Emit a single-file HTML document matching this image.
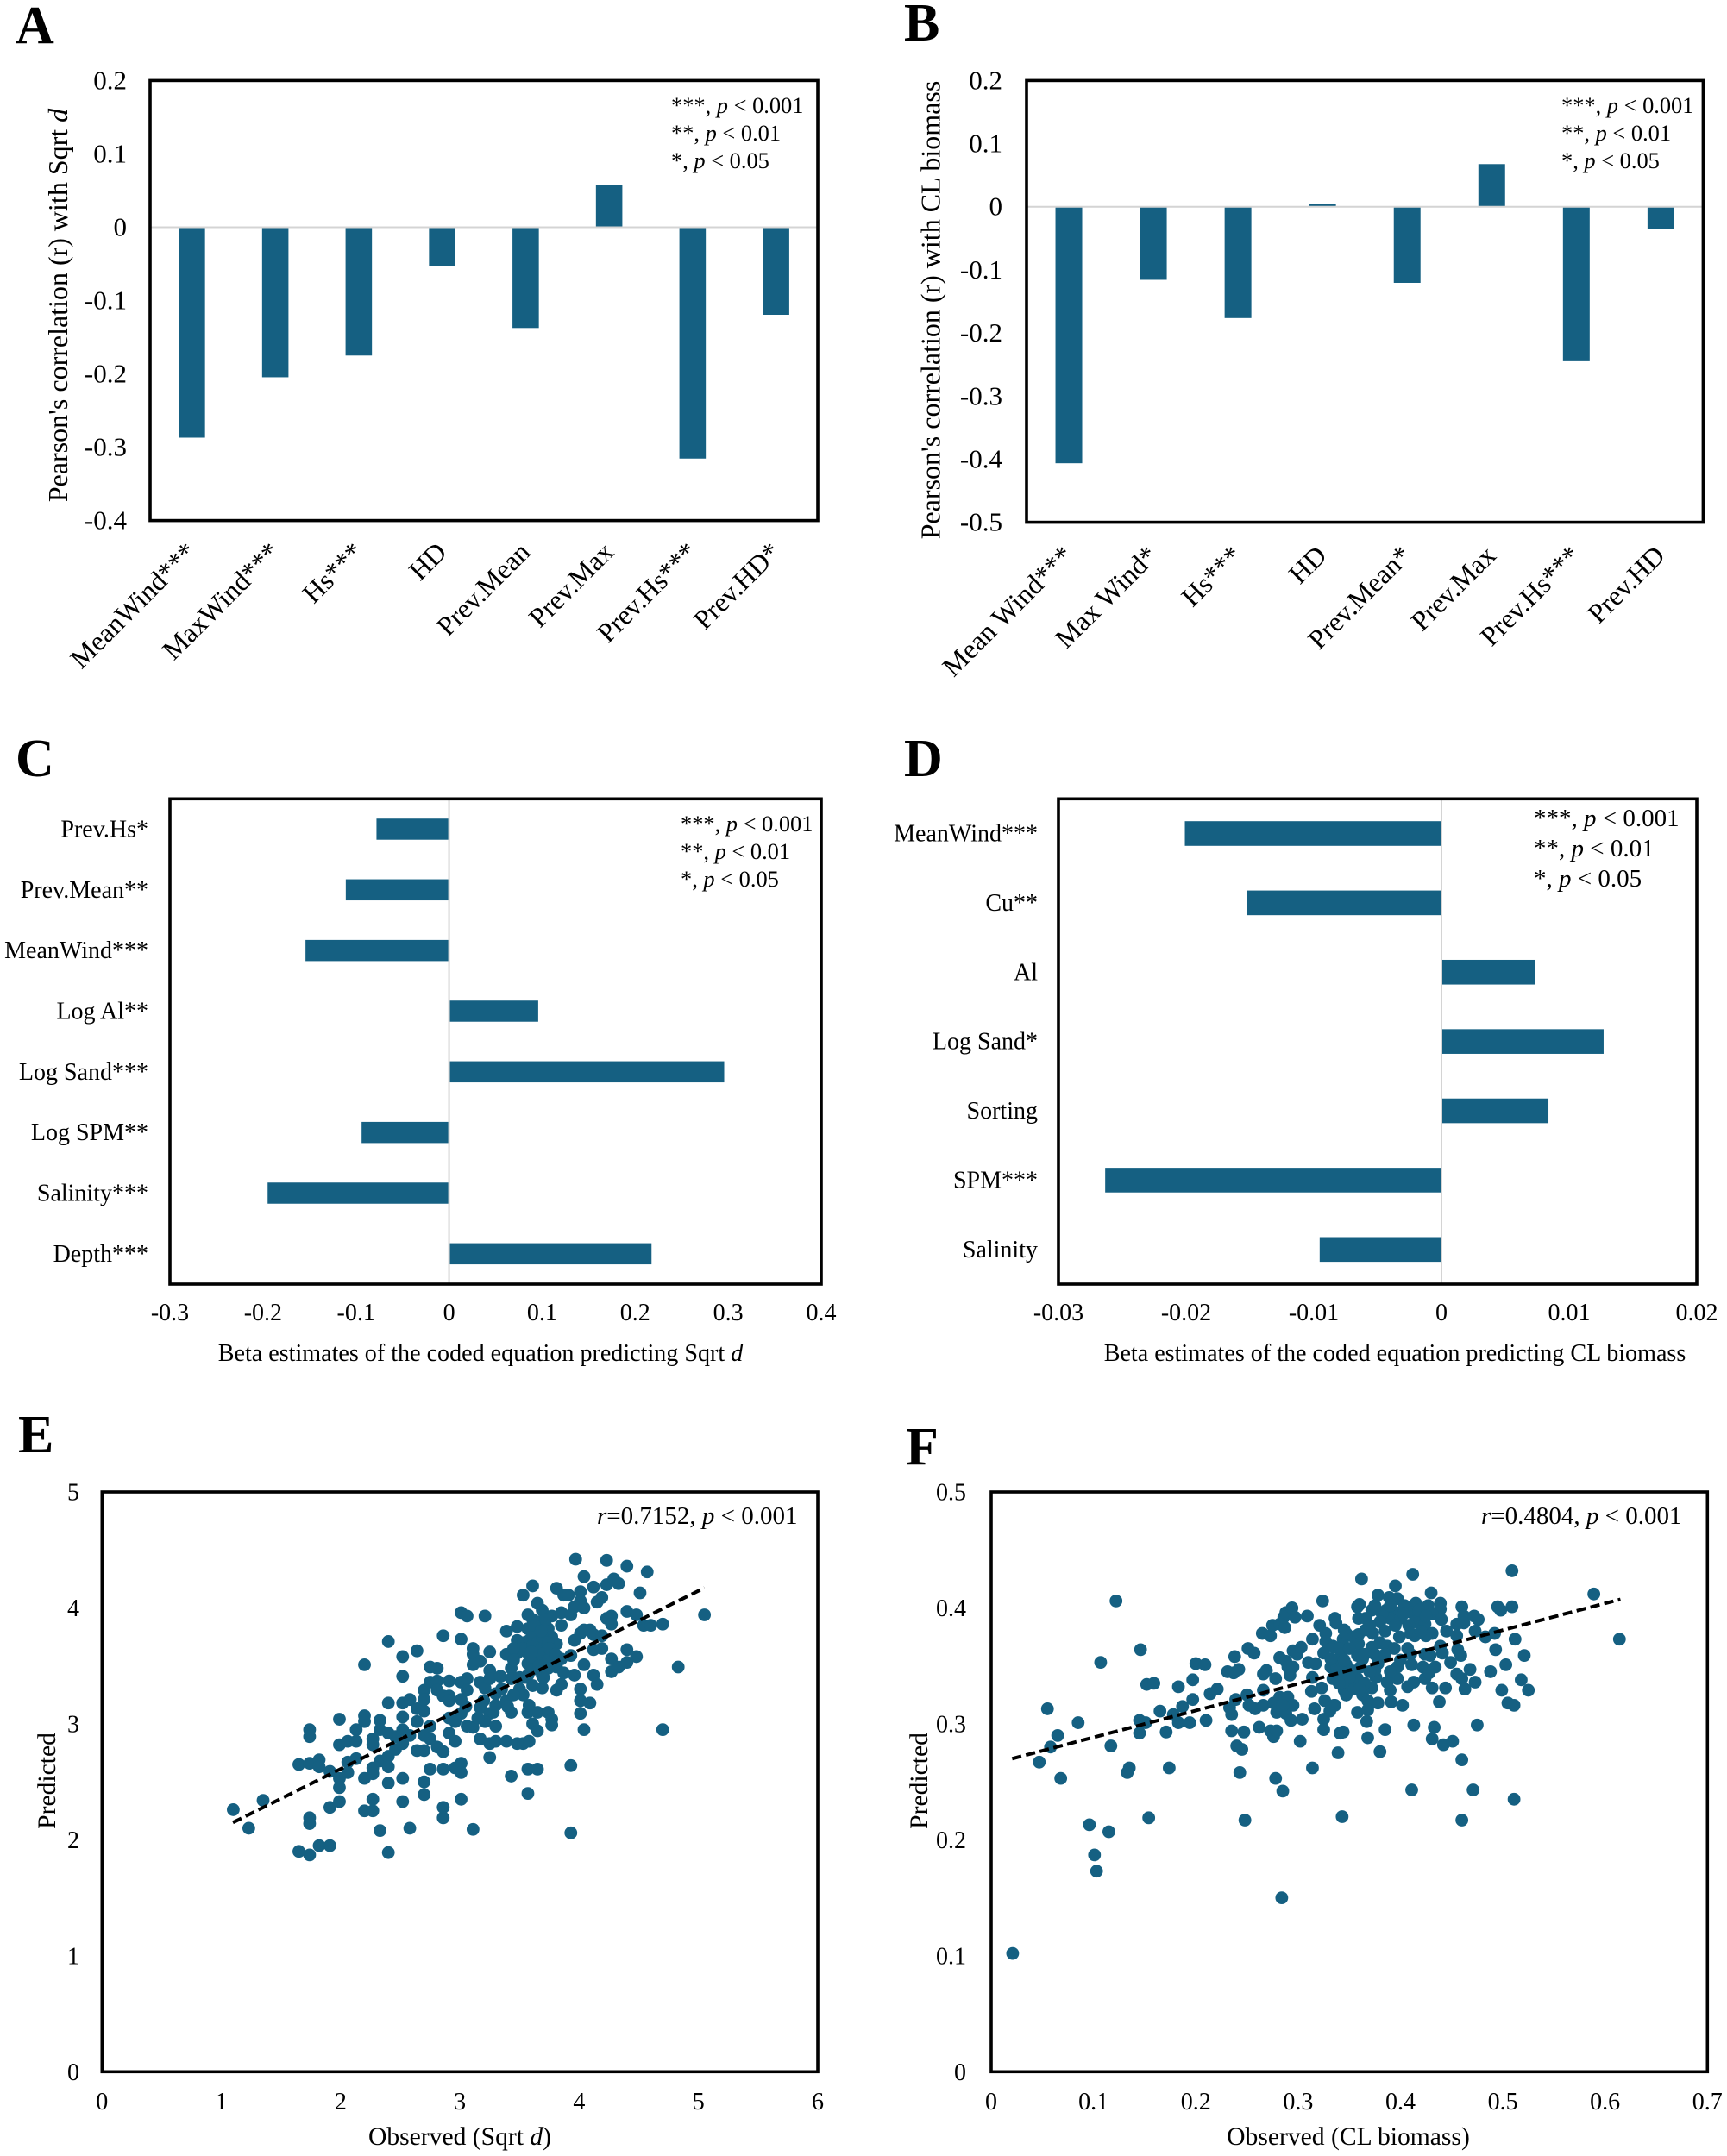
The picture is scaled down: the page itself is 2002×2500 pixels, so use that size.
<!DOCTYPE html>
<html lang="en">
<head>
<meta charset="utf-8">
<title>Correlation, regression and predicted vs observed panels</title>
<style>
html,body{margin:0;padding:0;background:#fff;}
svg{display:block;}
text{font-family:"Liberation Serif","Times New Roman",serif;fill:#000;}
.panel-letter{font-size:62px;font-weight:bold;}
.tk-ab{font-size:31px;}
.tk-rot{font-size:32px;}
.tk{font-size:28px;}
.ttl{font-size:28.1px;}
.ttl-sc{font-size:29.6px;}
.ttl-ab{font-size:32px;}
.leg{font-size:26.4px;}
.leg-d{font-size:29px;}
.ann{font-size:29px;}
.it{font-style:italic;}
</style>
</head>
<body>
<svg id="figure" xmlns="http://www.w3.org/2000/svg" width="2002" height="2500" viewBox="0 0 2002 2500">
<rect x="0" y="0" width="2002" height="2500" fill="#ffffff"/>

<g id="panel-a">
  <text class="panel-letter" x="18" y="50">A</text>
  <text class="ttl-ab" text-anchor="middle" transform="translate(78,354) rotate(-90)">Pearson's correlation (r) with Sqrt <tspan class="it">d</tspan></text>
  <g>
    <text class="leg" x="778" y="131">***, <tspan class="it">p</tspan> &lt; 0.001</text>
    <text class="leg" x="778" y="163">**, <tspan class="it">p</tspan> &lt; 0.01</text>
    <text class="leg" x="778" y="195">*, <tspan class="it">p</tspan> &lt; 0.05</text>
  </g>
</g>

<g id="panel-b">
  <text class="panel-letter" x="1048" y="47">B</text>
  <text class="ttl-ab" text-anchor="middle" transform="translate(1089.5,359.5) rotate(-90)">Pearson's correlation (r) with CL biomass</text>
  <g>
    <text class="leg" x="1810" y="131">***, <tspan class="it">p</tspan> &lt; 0.001</text>
    <text class="leg" x="1810" y="163">**, <tspan class="it">p</tspan> &lt; 0.01</text>
    <text class="leg" x="1810" y="195">*, <tspan class="it">p</tspan> &lt; 0.05</text>
  </g>
</g>

<g id="panel-c">
  <text class="panel-letter" x="18" y="900">C</text>
  <text class="ttl" text-anchor="middle" x="557" y="1578">Beta estimates of the coded equation predicting Sqrt <tspan class="it">d</tspan></text>
  <g>
    <text class="leg" x="789" y="964">***, <tspan class="it">p</tspan> &lt; 0.001</text>
    <text class="leg" x="789" y="996">**, <tspan class="it">p</tspan> &lt; 0.01</text>
    <text class="leg" x="789" y="1028">*, <tspan class="it">p</tspan> &lt; 0.05</text>
  </g>
</g>

<g id="panel-d">
  <text class="panel-letter" x="1048" y="900">D</text>
  <text class="ttl" text-anchor="middle" x="1617" y="1578">Beta estimates of the coded equation predicting CL biomass</text>
  <g>
    <text class="leg-d" x="1778" y="958">***, <tspan class="it">p</tspan> &lt; 0.001</text>
    <text class="leg-d" x="1778" y="993">**, <tspan class="it">p</tspan> &lt; 0.01</text>
    <text class="leg-d" x="1778" y="1028">*, <tspan class="it">p</tspan> &lt; 0.05</text>
  </g>
</g>

<g id="panel-e">
  <text class="panel-letter" x="21" y="1684">E</text>
  <text class="ttl-sc" text-anchor="middle" x="533" y="2487">Observed (Sqrt <tspan class="it">d</tspan>)</text>
  <text class="ttl-sc" text-anchor="middle" transform="translate(64,2065) rotate(-90)">Predicted</text>
  <text class="ann" x="692" y="1767"><tspan class="it">r</tspan>=0.7152, <tspan class="it">p</tspan> &lt; 0.001</text>
</g>

<g id="panel-f">
  <text class="panel-letter" x="1050" y="1698">F</text>
  <text class="ttl-sc" text-anchor="middle" x="1563" y="2487">Observed (CL biomass)</text>
  <text class="ttl-sc" text-anchor="middle" transform="translate(1075,2065) rotate(-90)">Predicted</text>
  <text class="ann" x="1717" y="1767"><tspan class="it">r</tspan>=0.4804, <tspan class="it">p</tspan> &lt; 0.001</text>
</g>
</svg>

<script>
// ---------- Panel A ----------
const aCategories = ['MeanWind***','MaxWind***','Hs***','HD','Prev.Mean','Prev.Max','Prev.Hs***','Prev.HD*'];
const aValues = [-0.287,-0.2046,-0.175,-0.0534,-0.1374,0.057,-0.3155,-0.1194];
const aTickLabels = ['0.2','0.1','0','-0.1','-0.2','-0.3','-0.4'];

// ---------- Panel B ----------
const bCategories = ['Mean Wind***','Max Wind*','Hs***','HD','Prev.Mean*','Prev.Max','Prev.Hs***','Prev.HD'];
const bValues = [-0.4065,-0.1158,-0.1764,0.004,-0.1206,0.0676,-0.2448,-0.0349];
const bTickLabels = ['0.2','0.1','0','-0.1','-0.2','-0.3','-0.4','-0.5'];

// ---------- Panel C ----------
const cCategories = ['Prev.Hs*','Prev.Mean**','MeanWind***','Log Al**','Log Sand***','Log SPM**','Salinity***','Depth***'];
const cValues = [-0.078,-0.111,-0.1543,0.0958,0.2957,-0.094,-0.195,0.2176];
const cTickLabels = ['-0.3','-0.2','-0.1','0','0.1','0.2','0.3','0.4'];

// ---------- Panel D ----------
const dCategories = ['MeanWind***','Cu**','Al','Log Sand*','Sorting','SPM***','Salinity'];
const dValues = [-0.0201,-0.01524,0.0073,0.0127,0.00838,-0.02634,-0.00954];
const dTickLabels = ['-0.03','-0.02','-0.01','0','0.01','0.02'];

// ---------- Panel E ----------
const eXTickLabels = ['0','1','2','3','4','5','6'];
const eYTickLabels = ['0','1','2','3','4','5'];
const eTrendX = [1.097,5.05];
const eTrendY = [2.149,4.173];
const eObserved = [
1.10,1.23,1.35,1.65,1.65,
1.74,1.74,1.74,1.74,1.74,1.74,1.82,1.82,1.82,
1.91,1.91,1.91,1.99,1.99,1.99,1.99,1.99,
2.06,2.06,2.06,2.13,2.13,2.13,
2.20,2.20,2.20,2.20,2.20,2.27,2.27,2.27,2.27,2.27,2.27,
2.33,2.33,2.33,2.33,2.40,2.40,2.40,2.40,2.40,2.40,2.40,
2.46,2.46,2.52,2.52,2.52,2.52,2.52,2.52,2.52,2.52,
2.58,2.58,2.58,2.64,2.64,2.64,2.64,
2.70,2.70,2.70,2.70,2.70,2.70,2.70,2.75,2.75,2.75,2.75,2.75,
2.81,2.81,2.81,2.81,2.86,2.86,2.86,2.86,2.86,2.86,
2.91,2.91,2.91,2.91,2.91,2.96,2.96,2.96,
3.01,3.01,3.01,3.01,3.01,3.01,3.01,3.01,
3.06,3.06,3.06,3.06,3.11,3.11,3.11,3.11,3.11,
3.17,3.17,3.17,3.17,3.21,3.21,3.21,
3.25,3.25,3.25,3.25,3.25,3.25,3.30,3.30,3.30,3.30,3.34,
3.39,3.39,3.39,3.39,3.43,3.43,3.43,3.43,3.48,3.48,3.48,3.48,
3.53,3.53,3.53,3.57,3.57,3.57,3.57,3.57,3.57,3.57,3.57,
3.58,3.58,3.58,3.61,3.61,3.61,
3.65,3.65,3.65,3.65,3.65,3.65,3.69,3.69,3.69,3.69,3.69,
3.74,3.74,3.74,3.77,3.77,3.77,3.77,3.77,
3.81,3.81,3.81,3.81,3.85,3.85,3.85,3.85,3.87,3.87,3.91,
3.93,3.93,3.93,3.93,3.96,3.96,3.96,3.97,
4.01,4.01,4.01,4.01,4.01,4.01,4.04,4.04,4.04,4.04,4.04,4.09,4.09,
4.12,4.12,4.12,4.12,4.15,4.15,4.19,4.19,4.19,
4.23,4.23,4.23,4.27,4.27,4.27,4.27,4.29,4.33,4.33,
4.40,4.40,4.40,4.40,4.48,4.48,4.51,4.54,4.57,4.60,4.70,4.70,4.83,5.05,
3.53,3.53,3.61,3.61,3.61,3.61,3.61,3.65,3.65,3.65,3.69,3.69,3.69,3.74,3.74,3.74,3.45,3.45,3.50,3.50,
3.62,3.68,3.72,3.60,3.75,3.80,3.66,3.20,3.28,3.35,3.40,3.15,3.45,3.05,3.55,3.70
];
const ePredicted = [
2.26,2.10,2.34,2.65,1.90,
2.66,2.95,2.89,1.87,2.19,2.14,2.69,2.63,1.95,
2.59,1.95,2.28,2.33,3.04,2.82,2.53,2.45,
2.85,2.67,2.58,2.85,2.95,2.70,
2.53,2.25,3.51,3.07,3.02,2.25,2.35,2.62,2.57,2.87,2.82,
3.03,2.95,2.68,2.08,3.71,3.18,2.92,2.72,2.63,2.49,1.89,
2.89,2.78,3.58,3.41,3.18,3.06,2.95,2.83,2.53,2.33,
3.21,2.90,2.10,3.63,3.13,3.02,2.77,
3.29,3.21,3.11,2.90,2.77,2.50,2.39,3.49,3.36,2.98,2.87,2.61,
3.48,3.37,3.29,2.80,3.76,3.24,2.76,2.61,2.28,2.19,
3.37,3.24,3.20,3.05,2.92,3.02,2.85,2.62,
3.96,3.73,3.36,3.21,3.09,2.66,2.58,2.35,
3.93,3.39,3.29,2.98,3.65,3.60,3.51,2.09,2.97,
3.36,3.54,3.14,2.87,3.93,3.31,3.02,
3.62,3.46,3.39,3.09,2.83,2.71,3.26,3.16,2.98,2.85,3.41,
3.80,3.60,3.20,2.85,3.48,3.39,3.10,2.55,3.84,3.72,3.61,2.83,
4.11,3.25,2.83,3.94,3.82,3.61,3.52,3.42,3.10,2.61,2.40,
3.72,3.16,2.85,4.19,3.33,3.00,
4.04,3.76,3.56,3.10,2.94,2.61,3.98,3.42,3.31,3.86,3.66,
3.82,3.61,3.10,3.93,3.75,3.69,3.04,2.99,
4.17,3.69,3.49,3.29,3.96,3.85,3.56,3.34,4.11,3.44,4.11,
2.64,2.06,3.59,3.94,4.01,3.72,3.42,4.42,
4.14,4.06,3.78,3.30,3.20,3.09,4.27,4.00,3.51,2.95,3.81,3.81,3.18,
4.18,3.77,3.64,3.42,4.05,3.34,3.76,3.65,4.09,
4.41,4.20,3.91,3.93,3.86,3.56,3.45,4.25,4.21,3.49,
4.36,3.97,3.64,3.53,3.94,3.58,4.13,3.85,4.31,3.85,3.86,2.95,3.49,3.94,
3.70,3.65,3.90,3.78,3.68,3.55,3.47,3.88,3.70,3.63,3.75,3.60,3.52,3.70,3.55,3.48,3.65,3.55,3.30,3.40,
3.85,3.80,3.90,3.62,3.65,3.60,3.50,3.20,3.10,3.30,3.15,3.05,3.25,3.15,3.40,3.40
];

// ---------- Panel F ----------
const fXTickLabels = ['0','0.1','0.2','0.3','0.4','0.5','0.6','0.7'];
const fYTickLabels = ['0','0.1','0.2','0.3','0.4','0.5'];
const fTrendX = [0.0205,0.615];
const fTrendY = [0.270,0.4074];
const fObserved = [
.021,.122,.146,.107,.055,.085,.065,.058,.047,.068,.117,.135,.133,.174,.096,.115,.154,.101,.103,.248,
.284,.243,.278,.285,.314,.302,.145,.151,.145,.171,.165,.178,.183,.187,.194,.197,.210,.183,.197,.152,
.159,.200,.209,.214,.221,.231,.237,.242,.238,.251,.257,.239,.250,.233,.235,.235,.247,.240,.245,.252,
.258,.266,.266,.262,.273,.276,.279,.266,.269,.278,.265,.273,.275,.282,.287,.286,.288,.294,.297,.309,
.324,.321,.327,.314,.336,.337,.345,.344,.282,.288,.290,.295,.292,.295,.299,.303,.310,.317,.325,.327,
.334,.314,.313,.323,.316,.326,.331,.336,.325,.325,.276,.282,.290,.295,.279,.288,.293,.304,.285,.338,
.332,.344,.345,.347,
.362,.412,.395,.430,.509,.589,.614,.378,.389,.397,.439,.439,.460,.495,.498,.509,.358,.360,.372,.359,
.366,.415,.427,.431,.386,.396,.404,.411,.420,.462,.472,.476,.390,.400,.414,.424,.462,.455,.347,.354,
.359,.366,.373,.431,.445,.455,.473,.483,.492,.512,.414,.425,.399,.359,.372,.380,.387,.394,.335,.342,
.407,.439,.441,.424,.429,.456,.459,.493,.521,.449,.503,.488,.468,.455,.460,.473,.518,.525,.499,.505,
.511,.463,.444,.431,.438,.402,.391,.378,.372,.376,.387,.397,.390,.407,.413,.424,.434,.422,.428,.397,
.411,.375,.358,.363,.347,.358,.361,.347,.347,.363,.368,.358,.368,.367,.335,.385,.368,.341,.344,.339,
.380,.413,.433,.431,.442,.451,.475,.460,.411,.471,.511,.343,.460,.352,.344,.338,.332,.334,
.375,.382,.390,.395,.403,.408,.418,.425,.380,.370,.385,.410,.420,.440,
.365,.375,.385,.400,.410,.340,.345,.350,.355,.365,.370,.340,.350,.360,.378,.390
];
const fPredicted = [
.102,.406,.364,.353,.313,.301,.290,.280,.267,.253,.281,.262,.258,.262,.213,.207,.219,.187,.173,.217,
.150,.258,.253,.242,.262,.285,.303,.301,.292,.293,.311,.308,.301,.315,.301,.321,.303,.332,.338,.334,
.335,.352,.351,.326,.330,.345,.344,.347,.358,.365,.361,.321,.325,.314,.308,.294,.293,.281,.278,.316,
.313,.329,.316,.297,.294,.289,.294,.343,.346,.339,.378,.376,.385,.386,.383,.392,.396,.400,.392,.393,
.406,.385,.378,.373,.391,.387,.381,.373,.357,.354,.349,.349,.342,.363,.360,.366,.353,.352,.361,.371,
.367,.340,.328,.331,.313,.320,.311,.316,.304,.295,.318,.323,.323,.316,.310,.309,.303,.304,.316,.354,
.349,.341,.329,.325,
.425,.429,.419,.413,.432,.412,.373,.411,.409,.408,.404,.399,.401,.401,.398,.401,.401,.403,.398,.391,
.391,.404,.402,.395,.398,.396,.402,.396,.393,.393,.393,.390,.391,.391,.388,.386,.387,.386,.378,.375,
.377,.381,.378,.378,.380,.376,.380,.375,.378,.373,.376,.376,.375,.369,.366,.370,.367,.365,.366,.359,
.365,.367,.361,.360,.359,.364,.359,.364,.359,.353,.351,.345,.347,.343,.339,.336,.338,.329,.329,.318,
.316,.330,.331,.331,.319,.316,.319,.318,.331,.340,.336,.339,.329,.332,.336,.339,.349,.349,.344,.349,
.351,.346,.359,.356,.351,.339,.349,.336,.325,.325,.320,.310,.312,.302,.316,.295,.288,.292,.293,.275,
.276,.299,.297,.287,.282,.285,.299,.269,.243,.243,.235,.220,.217,.346,.344,.349,.356,.339,
.402,.395,.402,.385,.395,.385,.398,.393,.388,.385,.380,.378,.380,.390,
.360,.360,.360,.355,.360,.365,.355,.340,.330,.335,.345,.335,.365,.330,.352,.345
];

// ---------- Shared helpers ----------
const SVGNS = 'http://www.w3.org/2000/svg';
const BAR_COLOR = '#156082';
const ZERO_COLOR = '#d4d4d4';

function linear(d0, d1, r0, r1) {
  return function (v) { return r0 + (v - d0) / (d1 - d0) * (r1 - r0); };
}
function make(parent, tag, attrs, content) {
  const el = document.createElementNS(SVGNS, tag);
  for (const k in attrs) el.setAttribute(k, attrs[k]);
  if (content !== undefined) el.textContent = content;
  parent.appendChild(el);
  return el;
}
function drawFrame(group, box) {
  const frame = make(group, 'rect', {x: box.left, y: box.top, width: box.right - box.left, height: box.bottom - box.top, fill: 'none', stroke: '#000', 'stroke-width': 3.6});
  
  
}

function verticalBars(panelId, box, categories, values, tickLabels, labelOffsetX, labelY, tickRight) {
  const g = document.getElementById(panelId);
  const max = parseFloat(tickLabels[0]);
  const min = parseFloat(tickLabels[tickLabels.length - 1]);
  const y = linear(max, min, box.top, box.bottom);
  const band = (box.right - box.left) / categories.length;
  const barW = band * 0.316;
  categories.forEach(function (cat, i) {
    const cx = box.left + band * (i + 0.5);
    const v = values[i];
    const bar = make(g, 'rect', {x: cx - barW / 2, y: Math.min(y(0), y(v)), width: barW, height: Math.abs(y(v) - y(0)), fill: BAR_COLOR});
    
    
    const lx = cx + labelOffsetX;
    const label = make(g, 'text', {class: 'tk-rot', 'text-anchor': 'end', transform: 'translate(' + lx + ',' + labelY + ') rotate(-45)'}, cat);
    
    
  });
  const zero = make(g, 'line', {x1: box.left, x2: box.right, y1: y(0), y2: y(0), stroke: ZERO_COLOR, 'stroke-width': 2});
  
  
  tickLabels.forEach(function (t) {
    const tick = make(g, 'text', {class: 'tk-ab', 'text-anchor': 'end', x: tickRight, y: y(parseFloat(t)) + 10}, t);
    
    
  });
  drawFrame(g, box);
}

function horizontalBars(panelId, box, categories, values, tickLabels, labelRight, barHeight) {
  const g = document.getElementById(panelId);
  const min = parseFloat(tickLabels[0]);
  const max = parseFloat(tickLabels[tickLabels.length - 1]);
  const x = linear(min, max, box.left, box.right);
  const band = (box.bottom - box.top) / categories.length;
  categories.forEach(function (cat, i) {
    const cy = box.top + band * (i + 0.5);
    const v = values[i];
    const bar = make(g, 'rect', {x: Math.min(x(0), x(v)), y: cy - barHeight / 2, width: Math.abs(x(v) - x(0)), height: barHeight, fill: BAR_COLOR});
    
    
    const label = make(g, 'text', {class: 'tk', 'text-anchor': 'end', x: labelRight, y: cy + 9}, cat);
    
    
  });
  const zero = make(g, 'line', {x1: x(0), x2: x(0), y1: box.top, y2: box.bottom, stroke: ZERO_COLOR, 'stroke-width': 2});
  
  
  tickLabels.forEach(function (t) {
    const tick = make(g, 'text', {class: 'tk', 'text-anchor': 'middle', x: x(parseFloat(t)), y: 1531}, t);
    
    
  });
  drawFrame(g, box);
}

function scatter(panelId, box, xs, ys, xTicks, yTicks, trendX, trendY, tickRight) {
  const g = document.getElementById(panelId);
  const x = linear(parseFloat(xTicks[0]), parseFloat(xTicks[xTicks.length - 1]), box.left, box.right);
  const y = linear(parseFloat(yTicks[0]), parseFloat(yTicks[yTicks.length - 1]), box.bottom, box.top);
  xs.forEach(function (xv, i) {
    if (ys[i] === undefined) return;
    const dot = make(g, 'circle', {cx: x(xv), cy: y(ys[i]), r: 7.4, fill: BAR_COLOR});
    
    
  });
  const trend = make(g, 'line', {x1: x(trendX[0]), y1: y(trendY[0]), x2: x(trendX[1]), y2: y(trendY[1]), stroke: '#000', 'stroke-width': 4, 'stroke-dasharray': '11 5.5'});
  
  
  xTicks.forEach(function (t) {
    const tick = make(g, 'text', {class: 'tk', 'text-anchor': 'middle', x: x(parseFloat(t)), y: 2446}, t);
    
    
  });
  yTicks.forEach(function (t) {
    const tick = make(g, 'text', {class: 'tk', 'text-anchor': 'end', x: tickRight, y: y(parseFloat(t)) + 9.5}, t);
    
    
  });
  drawFrame(g, box);
}

verticalBars('panel-a', {left: 174, right: 948, top: 93.4, bottom: 603.6}, aCategories, aValues, aTickLabels, 7, 642, 147);
verticalBars('panel-b', {left: 1190, right: 1974.4, top: 93.4, bottom: 605.6}, bCategories, bValues, bTickLabels, 6.5, 646, 1162);
horizontalBars('panel-c', {left: 197, right: 952, top: 926.3, bottom: 1489}, cCategories, cValues, cTickLabels, 172, 24.5);
horizontalBars('panel-d', {left: 1227, right: 1967, top: 926.3, bottom: 1489}, dCategories, dValues, dTickLabels, 1203, 28.6);
scatter('panel-e', {left: 118.3, right: 948, top: 1730, bottom: 2402.3}, eObserved, ePredicted, eXTickLabels, eYTickLabels, eTrendX, eTrendY, 92);
scatter('panel-f', {left: 1149, right: 1979.3, top: 1730, bottom: 2402.3}, fObserved, fPredicted, fXTickLabels, fYTickLabels, fTrendX, fTrendY, 1120);
</script>
</body>
</html>
